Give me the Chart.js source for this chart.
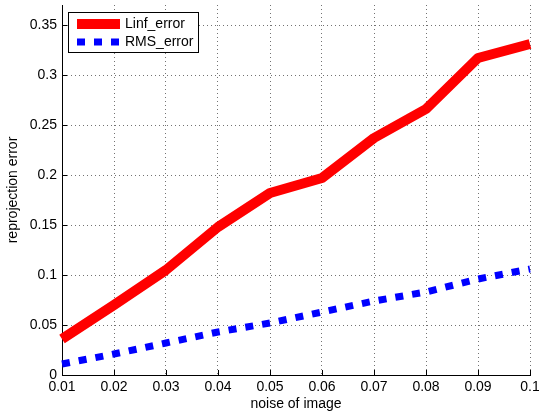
<!DOCTYPE html>
<html>
<head>
<meta charset="utf-8">
<script src="https://cdn.jsdelivr.net/npm/chart.js@4/dist/chart.umd.min.js"></script>
<style>
  html, body { margin: 0; padding: 0; background: #fff; }
  #wrap { width: 539px; height: 415px; }
</style>
</head>
<body>
<div id="wrap"><canvas id="myChart"></canvas></div>
<script>
const noiseLevels = [0.01, 0.02, 0.03, 0.04, 0.05, 0.06, 0.07, 0.08, 0.09, 0.1];
const linfError = [0.036, 0.070, 0.105, 0.148, 0.182, 0.197, 0.237, 0.266, 0.317, 0.331];
const rmsError = [0.011, 0.021, 0.032, 0.043, 0.052, 0.063, 0.074, 0.083, 0.096, 0.106];
const xTicks = ['0.01', '0.02', '0.03', '0.04', '0.05', '0.06', '0.07', '0.08', '0.09', '0.1'];
const yTicks = ['0', '0.05', '0.1', '0.15', '0.2', '0.25', '0.3', '0.35'];

const font = { family: 'Liberation Sans, Arial, sans-serif', size: 14 };

// MATLAB style: ticks pointing in, and a boxed legend top-left
const matlabBits = {
    id: 'matlabBits',
    afterDraw(chart) {
        const ctx = chart.ctx;
        const { left, bottom } = chart.chartArea;
        const xs = chart.scales.x, ys = chart.scales.y;
        ctx.save();
        ctx.strokeStyle = '#000';
        ctx.lineWidth = 1;
        ctx.beginPath();
        xs.ticks.forEach(t => {
            const px = Math.round(xs.getPixelForValue(t.value)) + 0.5;
            ctx.moveTo(px, bottom);
            ctx.lineTo(px, bottom - 5);
        });
        ys.ticks.forEach(t => {
            const py = Math.round(ys.getPixelForValue(t.value)) + 0.5;
            ctx.moveTo(left, py);
            ctx.lineTo(left + 5, py);
        });
        ctx.stroke();

        // legend
        const bx = 68.5, by = 12.5, bw = 130, bh = 40;
        ctx.fillStyle = '#fff';
        ctx.fillRect(bx, by, bw, bh);
        ctx.strokeStyle = '#000';
        ctx.lineWidth = 1;
        ctx.strokeRect(bx, by, bw, bh);
        ctx.font = font.size + 'px ' + font.family;
        ctx.textBaseline = 'middle';
        chart.data.datasets.forEach((ds, i) => {
            const ly = 24 + i * 18;
            ctx.save();
            ctx.strokeStyle = ds.borderColor;
            ctx.lineWidth = ds.borderWidth;
            ctx.lineCap = 'butt';
            ctx.setLineDash(ds.borderDash || []);
            ctx.beginPath();
            ctx.moveTo(77, ly);
            ctx.lineTo(120, ly);
            ctx.stroke();
            ctx.restore();
            ctx.fillStyle = '#000';
            ctx.fillText(ds.label, 125, ly);
        });
        ctx.restore();
    }
};

const noPad = s => {
    s.paddingLeft = 0; s.paddingRight = 0; s.paddingTop = 0; s.paddingBottom = 0;
};

const ctx = document.getElementById('myChart');
new Chart(ctx, {
    type: 'line',
    data: {
        datasets: [{
            label: 'Linf_error',
            data: noiseLevels.map((x, i) => ({ x: x, y: linfError[i] })),
            borderColor: '#ff0000',
            borderWidth: 10,
            borderJoinStyle: 'round',
            pointRadius: 0,
            tension: 0,
            clip: false
        }, {
            label: 'RMS_error',
            data: noiseLevels.map((x, i) => ({ x: x, y: rmsError[i] })),
            borderColor: '#0000ff',
            borderWidth: 7,
            borderDash: [8, 9],
            borderCapStyle: 'butt',
            pointRadius: 0,
            tension: 0,
            clip: false
        }]
    },
    options: {
        responsive: true,
        maintainAspectRatio: false,
        animation: false,
        layout: { padding: { left: 0, top: 5, right: 9, bottom: 0 } },
        plugins: { legend: { display: false }, tooltip: { enabled: false } },
        scales: {
            x: {
                type: 'linear',
                min: 0.01,
                max: 0.1,
                afterBuildTicks: s => { s.ticks = xTicks.map(v => ({ value: parseFloat(v) })); },
                afterFit: s => { s.height = 40; noPad(s); },
                ticks: {
                    color: '#000',
                    font: font,
                    padding: 4,
                    maxRotation: 0,
                    callback: (v, i) => xTicks[i]
                },
                grid: { color: 'rgba(0,0,0,0.55)', drawTicks: false, lineWidth: 1 },
                border: { color: '#000', width: 1, dash: [1, 3] },
                title: { display: true, text: 'noise of image', color: '#000', font: font, padding: { top: 0, bottom: 2 } }
            },
            y: {
                type: 'linear',
                min: 0,
                max: 0.37,
                afterBuildTicks: s => { s.ticks = yTicks.map(v => ({ value: parseFloat(v) })); },
                afterFit: s => { s.width = 62; noPad(s); },
                ticks: {
                    color: '#000',
                    font: font,
                    padding: 5,
                    callback: (v, i) => yTicks[i]
                },
                grid: { color: 'rgba(0,0,0,0.55)', drawTicks: false, lineWidth: 1 },
                border: { color: '#000', width: 1, dash: [1, 3] },
                title: { display: true, text: 'reprojection error', color: '#000', font: font, padding: { top: 5, bottom: 0 } }
            }
        }
    },
    plugins: [matlabBits]
});
</script>
</body>
</html>
